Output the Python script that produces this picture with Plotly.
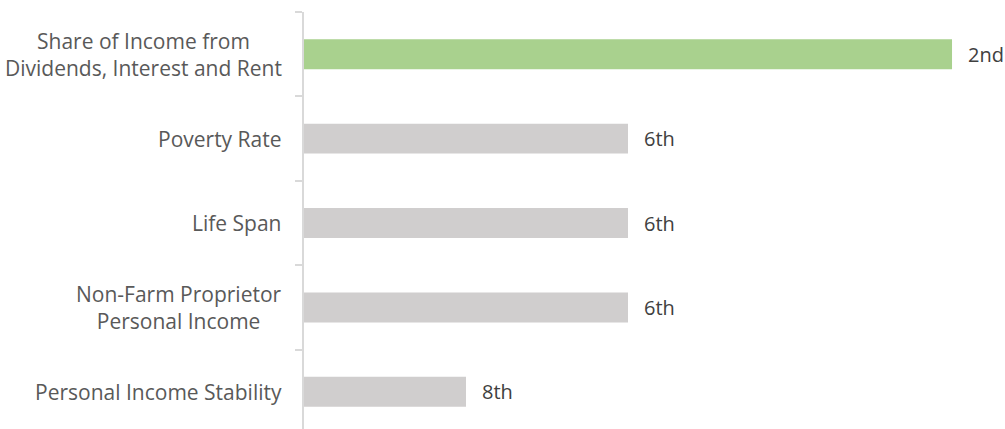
import plotly.graph_objects as go

categories = ["Share of Income from<br>Dividends, Interest and Rent", "Poverty Rate", "Life Span",
              "Non-Farm Proprietor<br>Personal Income", "Personal Income Stability"]
scores = [8, 4, 4, 4, 2]
rank_labels = ["2nd", "6th", "6th", "6th", "8th"]
colors = ["#A9D18E", "#D0CECE", "#D0CECE", "#D0CECE", "#D0CECE"]

FONT = "Open Sans"

fig = go.Figure(go.Bar(
    x=scores, y=categories, orientation="h",
    marker=dict(color=colors, line=dict(width=0)),
    width=0.355,
    hoverinfo="skip",
))

# value labels
for cat, val, lab in zip(categories, scores, rank_labels):
    fig.add_annotation(x=val, y=cat, text=lab, showarrow=False,
                       xanchor="left", yanchor="middle", xshift=14,
                       font=dict(family=FONT, size=20, color="#404040"))

# category labels (centered multi-line, like the original)
for cat in categories:
    fig.add_annotation(x=0, xref="paper", y=cat, text=cat, showarrow=False,
                       xanchor="right", yanchor="middle", align="center", xshift=-20,
                       font=dict(family=FONT, size=21, color="#595959"))

fig.update_layout(
    width=1005, height=429,
    margin=dict(l=304, r=0, t=12, b=0),
    plot_bgcolor="white", paper_bgcolor="white",
    showlegend=False,
    font=dict(family=FONT, size=20, color="#595959"),
)
fig.update_xaxes(range=[0, 8.654], visible=False, showgrid=False, zeroline=False)
fig.update_yaxes(
    type="category", categoryorder="array", categoryarray=categories,
    range=[4.44, -0.5],
    showline=True, linecolor="#D9D9D9", linewidth=2,
    ticks="outside", tickson="boundaries", ticklen=7, tickcolor="#D9D9D9", tickwidth=2,
    showgrid=False, zeroline=False, showticklabels=False,
)

fig.write_html("out.html", config={"displayModeBar": False},
               post_script="document.body.style.margin='0';document.body.style.overflow='hidden';")
